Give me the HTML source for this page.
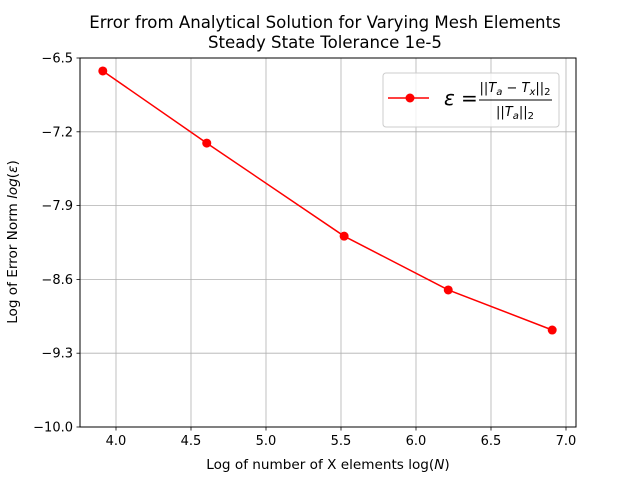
<!DOCTYPE html>
<html><head><meta charset="utf-8"><style>
body{margin:0;background:#fff;}
svg{display:block;font-family:"DejaVu Sans","Liberation Sans",sans-serif;}
</style></head><body>
<svg id="chart" width="640" height="480" viewBox="0 0 640 480" xmlns="http://www.w3.org/2000/svg">
<rect width="640" height="480" fill="#fff"/>
<g id="grid"></g>
<g id="ticks"></g>
<g id="series"></g>
<rect x="80" y="58" width="496" height="369" fill="none" stroke="#000" stroke-width="1"/>
<text x="325" y="28" text-anchor="middle" font-size="16.6">Error from Analytical Solution for Varying Mesh Elements</text>
<text x="325" y="48" text-anchor="middle" font-size="16.6">Steady State Tolerance 1e-5</text>
<text x="328" y="469" text-anchor="middle" font-size="13.6">Log of number of X elements log(<tspan font-style="italic">N</tspan>)</text>
<text transform="translate(17,242) rotate(-90)" text-anchor="middle" font-size="13.6">Log of Error Norm <tspan font-style="italic">log</tspan>(<tspan font-style="italic">ε</tspan>)</text>
<g>
<rect x="383" y="73" width="176" height="54" rx="3" fill="#fff" fill-opacity="0.8" stroke="#ccc"/>
<line x1="388" y1="98" x2="429" y2="98" stroke="red" stroke-width="1.5"/>
<circle cx="410" cy="98" r="4.5" fill="red"/>
<text x="444" y="105" font-size="20" font-style="italic">ε</text>
<text x="461" y="105" font-size="20">=</text>
<text x="515" y="92" text-anchor="middle" font-size="13">||<tspan font-style="italic">T</tspan><tspan font-size="10" font-style="italic" dy="3">a</tspan><tspan dy="-3"> − </tspan><tspan font-style="italic">T</tspan><tspan font-size="10" font-style="italic" dy="3">x</tspan><tspan dy="-3">||</tspan><tspan font-size="10" dy="3">2</tspan></text>
<line x1="479" y1="100" x2="552" y2="100" stroke="#000" stroke-width="0.9"/>
<text x="515" y="116" text-anchor="middle" font-size="13">||<tspan font-style="italic">T</tspan><tspan font-size="10" font-style="italic" dy="3">a</tspan><tspan dy="-3">||</tspan><tspan font-size="10" dy="3">2</tspan></text>
</g>
</svg>
<script>
const xValues = [3.912, 4.605, 5.521, 6.215, 6.908];
const yValues = [-6.623, -7.307, -8.19, -8.70, -9.08];
const xTicks = [4.0, 4.5, 5.0, 5.5, 6.0, 6.5, 7.0];
const yTicks = [-6.5, -7.2, -7.9, -8.6, -9.3, -10.0];
const yTickLabels = ["−6.5", "−7.2", "−7.9", "−8.6", "−9.3", "−10.0"];
const NS = "http://www.w3.org/2000/svg";
function sx(v){return 116 + (v - 4.0) * 150;}
function sy(v){return 58 + (-6.5 - v) * (369 / 3.5);}
function mk(tag, attrs, parent){const e=document.createElementNS(NS,tag);for(const k in attrs)e.setAttribute(k,attrs[k]);parent.appendChild(e);return e;}
const grid=document.getElementById('grid'), ticks=document.getElementById('ticks'), series=document.getElementById('series');
xTicks.forEach(t=>{
  const x=sx(t);
  const g=mk('line',{x1:x,y1:58,x2:x,y2:427,stroke:'#b0b0b0','stroke-width':0.8},grid);
  
  
  const tk=mk('line',{x1:x,y1:427,x2:x,y2:430.5,stroke:'#000','stroke-width':0.8},ticks);
  
  
  const lb=mk('text',{x:x,y:445,'text-anchor':'middle','font-size':13},ticks);
  lb.textContent=t.toFixed(1);
  
  
});
yTicks.forEach((t,i)=>{
  const y=sy(t);
  const g=mk('line',{x1:80,y1:y,x2:576,y2:y,stroke:'#b0b0b0','stroke-width':0.8},grid);
  
  
  const tk=mk('line',{x1:76.5,y1:y,x2:80,y2:y,stroke:'#000','stroke-width':0.8},ticks);
  
  
  const lb=mk('text',{x:73,y:y+4.5,'text-anchor':'end','font-size':13},ticks);
  lb.textContent=yTickLabels[i];
  
  
});
const pts=xValues.map((v,i)=>sx(v)+','+sy(yValues[i])).join(' ');
const pl=mk('polyline',{points:pts,fill:'none',stroke:'red','stroke-width':1.5},series);


xValues.forEach((v,i)=>{
  const c=mk('circle',{cx:sx(v),cy:sy(yValues[i]),r:4.5,fill:'red'},series);
  
  
});
</script>
</body></html>
